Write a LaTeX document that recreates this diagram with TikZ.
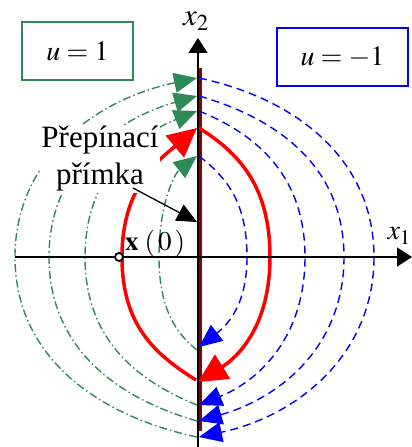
\documentclass[tikz,border=0pt]{standalone}
\usepackage{mathptmx}
\usepackage{fontspec}
\setmainfont{Liberation Serif}
\usetikzlibrary{arrows.meta}

\definecolor{upluscol}{RGB}{46,139,87}
\definecolor{uminuscol}{RGB}{0,0,255}
\definecolor{switchcol}{RGB}{139,0,0}

\newcommand*{\xmin}{-183}
\newcommand*{\xmax}{214}
\newcommand*{\ymin}{-190}
\newcommand*{\ymax}{219}

\begin{document}
\begin{tikzpicture}
[
	x=1bp,y=1bp,
	uplus/.style={upluscol,line width=1.4bp,dash pattern=on 8bp off 3bp on 1.5bp off 3bp,-{Triangle[length=23bp,width=20bp]}},
	uminus/.style={uminuscol,line width=1.4bp,dash pattern=on 8bp off 5bp,-{Triangle[length=23bp,width=20bp]}},
	optimal/.style={red,line width=3.5bp,-{Triangle[length=29bp,width=28bp]}},
	ubox/.style={draw,line width=1.4bp,text=black,minimum height=58bp,font=\fontsize{28bp}{32bp}\selectfont}
]

	\useasboundingbox (-198,-190) rectangle (213,257);

	% switching line
	\draw[switchcol,line width=3.5bp] (2.5,-174) -- (2.5,189);

	% u = -1 trajectories
	\draw[uminus] (1,179) .. controls +(-12:99) and +(0,98) .. (176,0) .. controls +(0,-99) and +(12:99) .. (1,-180);
	\draw[uminus] (1,161) .. controls +(-16:84) and +(0,89) .. (146,0) .. controls +(0,-90) and +(16:84) .. (1,-164);
	\draw[uminus] (1,146) .. controls +(-22:64) and +(0,80) .. (107,0) .. controls +(0,-81) and +(22:64) .. (1,-148);
	\draw[uminus] (1,101) .. controls +(-38:34) and +(0,56) .. (49,0) .. controls +(0,-50) and +(38:34) .. (1,-90);

	% u = 1 trajectories
	\draw[uplus] (-1,-180) .. controls +(168:103) and +(0,-99) .. (-183,0) .. controls +(0,99) and +(-168:103) .. (-1,179);
	\draw[uplus] (-1,-164) .. controls +(164:85) and +(0,-90) .. (-149,0) .. controls +(0,89) and +(-164:85) .. (-1,161);
	\draw[uplus] (-1,-148) .. controls +(158:67) and +(0,-81) .. (-113,0) .. controls +(0,80) and +(-158:67) .. (-1,146);
	\draw[uplus] (-1,-93) .. controls +(142:27) and +(0,-51) .. (-39,0) .. controls +(0,56) and +(-142:27) .. (-1,101);

	% optimal trajectory
	\draw[optimal] (-2,-123) .. controls +(148:49) and +(0,-68) .. (-76,0) .. controls +(0,71) and +(-140:49) .. (-1,129);
	\draw[optimal] (1,129) .. controls +(-32:47) and +(0,71) .. (72,0) .. controls +(0,-69) and +(32:47) .. (0,-125);

	% axes
	\draw[-{Triangle[length=15bp,width=19bp]},line width=1.4bp] (\xmin,0) -- (\xmax,0);
	\draw[-{Triangle[length=15bp,width=19bp]},line width=1.4bp] (0,\ymin) -- (0,\ymax);
	\node[anchor=base west,inner sep=0pt,font=\fontsize{31bp}{34bp}\selectfont] (x2lbl) at (-15,231) {$x_2$};
	\node[anchor=base east,inner sep=0pt,font=\fontsize{28bp}{32bp}\selectfont] (x1lbl) at (213,17) {$x_1$};

	\node[ubox,draw=upluscol,minimum width=111bp] (uplusbox) at (-120.5,206) {$u=1$};
	\node[ubox,draw=uminuscol,minimum width=131bp] (uminusbox) at (144.5,200) {$u=-1$};

	\node[fill=white,inner sep=1bp,align=center,font=\fontsize{31bp}{37bp}\selectfont] (switchlbl) at (-98,98) {Přepínací\\přímka};
	\coordinate (lblfoot) at (-65,69);
	\coordinate (switchpt) at (-1,35);
	\draw[-{Triangle[length=20bp,width=18bp]},line width=1.3bp] (lblfoot) -- (switchpt);

	\node[circle,draw,fill=white,line width=1.8bp,inner sep=0pt,minimum size=8bp] (x0) at (-79,0) {};
	\node[anchor=base west,inner sep=0pt,font=\fontsize{27bp}{30bp}\selectfont] (x0lbl) at (-73,6) {$\mathbf{x}\;(\,0\,)$};

\end{tikzpicture}
\end{document}
